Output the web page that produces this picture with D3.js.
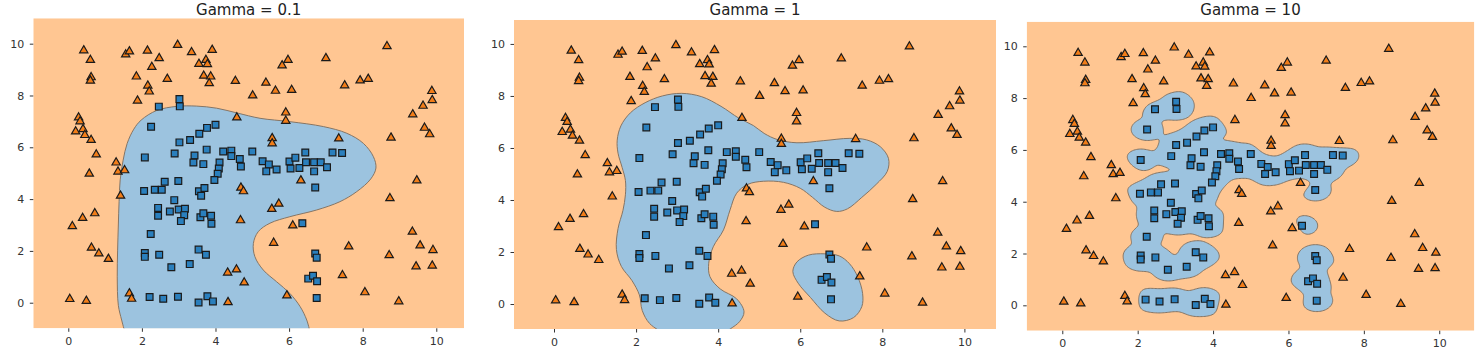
<!DOCTYPE html>
<html><head><meta charset="utf-8">
<script src="https://cdn.jsdelivr.net/npm/d3@7"></script>
<style>body{margin:0;background:#fff;} svg{display:block;font-family:"DejaVu Sans",sans-serif;}</style>
</head><body><svg id="c" width="1482" height="358"></svg>
<script>
const titles = ["Gamma = 0.1", "Gamma = 1", "Gamma = 10"];
const gammas = [0.1, 1, 10];
const xTicks = [0, 2, 4, 6, 8, 10];
const yTicks = [0, 2, 4, 6, 8, 10];

// class 0 (orange triangles)
const class0 = [
[0.42,9.74],[0.60,9.37],[0.62,8.70],[0.60,8.57],[1.56,9.58],[1.66,9.70],[2.15,9.73],[2.47,9.44],[2.27,9.10],[2.97,9.95],
[3.35,9.67],[3.91,9.76],[3.55,9.22],[3.74,9.37],[3.78,9.21],[1.85,8.73],[2.16,8.38],[2.20,8.15],[2.69,8.64],[3.68,8.76],
[3.87,8.73],[3.83,8.47],[4.54,8.56],[1.88,7.80],[0.28,7.15],[0.32,7.00],[0.20,6.61],[0.40,6.70],[0.45,6.47],[0.62,6.28],
[0.76,5.72],[0.57,4.98],[1.30,5.41],[1.35,5.06],[1.53,5.11],[1.42,4.13],[0.11,2.95],[0.39,3.27],[0.72,3.45],[0.63,2.12],
[0.83,1.90],[1.09,1.69],[0.04,0.14],[0.49,0.07],[1.66,0.36],[1.72,0.15],[4.34,0.02],[4.33,1.16],[4.57,1.28],[4.78,0.78],
[4.69,4.44],[4.76,4.30],[4.68,3.18],[4.58,7.15],[5.01,8.00],[5.37,8.49],[5.63,8.18],[5.81,9.16],[5.97,9.37],[6.07,8.21],
[5.91,7.34],[5.91,7.02],[5.54,6.35],[5.54,6.15],[7.00,9.44],[7.51,8.39],[7.93,8.58],[8.15,8.64],[8.66,9.90],[7.35,6.34],
[6.32,4.72],[5.53,3.62],[5.72,3.82],[6.10,2.98],[5.58,2.31],[5.94,0.28],[7.45,1.06],[7.62,2.17],[8.06,0.40],[8.72,1.83],
[8.74,4.03],[8.77,6.37],[8.98,0.05],[9.35,2.74],[9.56,2.21],[9.45,1.40],[9.91,2.03],[9.89,1.43],[9.47,4.72],[9.36,7.27],
[9.64,7.60],[9.88,8.17],[9.89,7.82],[9.68,6.75],[9.82,6.50]
];
// class 1 (blue squares)
const class1 = [
[3.02,7.86],[3.03,7.58],[2.46,7.57],[2.25,6.79],[3.02,6.19],[3.31,6.28],[3.56,6.52],[3.77,6.75],[4.00,6.87],[3.76,5.91],
[2.89,5.76],[2.08,5.61],[3.43,5.68],[3.40,5.41],[3.67,5.35],[4.21,5.84],[4.43,5.87],[4.43,5.66],[4.66,5.55],[4.69,5.26],
[4.11,5.41],[4.09,5.18],[4.06,4.98],[3.97,4.74],[5.00,5.84],[5.28,5.46],[5.45,5.34],[5.38,5.07],[5.66,5.14],[6.01,5.45],
[6.04,5.18],[6.17,5.60],[6.28,5.20],[6.44,5.80],[6.46,5.42],[6.68,5.42],[6.68,5.07],[6.86,5.42],[7.03,5.23],[7.18,5.80],
[7.44,5.78],[6.71,4.45],[2.99,4.70],[2.62,4.67],[2.06,4.31],[2.35,4.36],[2.54,4.36],[3.55,4.30],[3.61,4.13],[3.70,4.43],
[2.88,3.96],[2.44,3.66],[2.44,3.36],[2.76,3.52],[3.00,3.60],[3.17,3.63],[3.15,3.38],[3.06,3.15],[3.59,3.30],[3.67,3.45],
[3.88,3.36],[3.89,3.05],[2.24,2.65],[2.08,1.92],[2.08,1.77],[2.47,1.85],[2.80,1.37],[3.30,1.49],[3.54,2.05],[3.74,1.85],
[2.21,0.22],[2.58,0.15],[2.98,0.23],[3.54,0.01],[3.78,0.25],[3.93,0.05],[6.36,3.07],[6.71,1.90],[6.75,1.74],[6.52,0.93],
[6.65,1.04],[6.76,0.83],[6.75,0.18]
];

// decision boundaries (data units)
const boundaryGamma01 = [
[1.55,-1.2],[1.45,-0.67],[1.36,-0.1],[1.33,1.0],[1.34,2.0],[1.36,3.0],[1.38,3.9],[1.41,4.74],[1.49,5.5],[1.60,6.15],
[1.78,6.7],[1.98,7.05],[2.40,7.42],[2.95,7.58],[3.49,7.59],[4.03,7.51],[4.60,7.32],[5.21,7.12],[6.02,6.99],[6.93,6.80],
[7.57,6.54],[8.02,6.15],[8.29,5.64],[8.36,5.2],[8.22,4.78],[7.84,4.29],[7.38,3.90],[6.75,3.58],[6.02,3.32],[5.48,3.07],
[5.16,2.74],[5.03,2.29],[5.07,1.78],[5.30,1.26],[5.66,0.81],[6.02,0.36],[6.30,-0.15],[6.48,-0.67],[6.58,-1.2]
];
const boundaryGamma1Main = [
[2.7,-1.15],[2.33,-0.75],[2.15,-0.25],[2.08,0.35],[1.9,0.9],[1.64,1.45],[1.52,2.1],[1.56,2.9],[1.68,3.6],[1.74,4.2],
[1.74,4.75],[1.66,5.25],[1.56,5.8],[1.54,6.3],[1.63,6.85],[1.86,7.35],[2.22,7.74],[2.64,8.0],[3.11,8.10],[3.60,7.97],
[4.07,7.6],[4.5,7.15],[4.86,6.86],[5.12,6.56],[5.45,6.32],[5.92,6.20],[6.56,6.28],[7.21,6.37],[7.62,6.31],[7.95,6.05],
[8.15,5.6],[8.12,5.1],[7.85,4.6],[7.5,4.1],[7.15,3.66],[6.89,3.56],[6.6,3.72],[6.3,4.1],[6.0,4.45],[5.59,4.68],
[5.10,4.72],[4.72,4.6],[4.45,4.26],[4.29,3.62],[4.13,2.85],[3.88,2.2],[3.77,1.57],[3.80,1.05],[4.05,0.58],[4.45,0.2],
[4.63,-0.3],[4.52,-0.68],[4.3,-0.95],[4.1,-1.15]
];
const boundaryGamma1Island = [
[6.6,1.93],[6.95,1.85],[7.2,1.55],[7.4,1.05],[7.52,0.4],[7.5,-0.1],[7.3,-0.52],[6.95,-0.65],[6.6,-0.35],[6.25,0.25],
[5.95,0.8],[5.82,1.25],[5.92,1.62],[6.2,1.88]
];

const ORANGE_BG = "#ffc692", BLUE_BG = "#9cc3df", EDGE = "#857565";
const panels = [
  {left:33.3, right:464, top:18.3, bottom:328.3, xd:[-0.951,10.753], yd:[-0.988,10.98]},
  {left:514, right:996, top:20, bottom:329, xd:[-0.975,10.77], yd:[-0.96,10.92]},
  {left:1026.7, right:1474.3, top:21.7, bottom:330.7, xd:[-0.944,10.93], yd:[-0.98,10.95]}
];

const svg = d3.select("#c");

panels.forEach((p, k) => {
  const x = d3.scaleLinear().domain(p.xd).range([p.left, p.right]);
  const y = d3.scaleLinear().domain(p.yd).range([p.bottom, p.top]);
  const g = svg.append("g");
  const clipId = "clip" + k;
  g.append("clipPath").attr("id", clipId).append("rect")
    .attr("x", p.left).attr("y", p.top).attr("width", p.right - p.left).attr("height", p.bottom - p.top);
  const area = g.append("g").attr("clip-path", `url(#${clipId})`);
  area.append("rect").attr("x", p.left).attr("y", p.top)
    .attr("width", p.right - p.left).attr("height", p.bottom - p.top).attr("fill", ORANGE_BG);

  const lineOpen = d3.line().x(d => x(d[0])).y(d => y(d[1])).curve(d3.curveCatmullRom.alpha(0.5));
  const lineClosed = d3.line().x(d => x(d[0])).y(d => y(d[1])).curve(d3.curveCatmullRomClosed.alpha(0.5));

  if (k === 0) {
    area.append("path").attr("d", lineOpen(boundaryGamma01) + "Z")
      .attr("fill", BLUE_BG).attr("stroke", EDGE).attr("stroke-width", 1);
  } else if (k === 1) {
    area.append("path").attr("d", lineOpen(boundaryGamma1Main) + "Z")
      .attr("fill", BLUE_BG).attr("stroke", EDGE).attr("stroke-width", 1);
    area.append("path").attr("d", lineClosed(boundaryGamma1Island))
      .attr("fill", BLUE_BG).attr("stroke", EDGE).attr("stroke-width", 1);
  } else {
    const gamma = gammas[k];
    const n = 320, m = 320;
    const dx = (p.xd[1] - p.xd[0]) / n, dy = (p.yd[1] - p.yd[0]) / m;
    const vals = new Float64Array(n * m);
    const thr = 0.17;
    for (let j = 0; j < m; j++) {
      const yy = p.yd[0] + (j + 0.5) * dy;
      for (let i = 0; i < n; i++) {
        const xx = p.xd[0] + (i + 0.5) * dx;
        let s = 0;
        for (const b of class1) { const d2 = (xx-b[0])**2 + (yy-b[1])**2; if (d2 < 2) s += Math.exp(-gamma*d2); }
        for (const o of class0) { const d2 = (xx-o[0])**2 + (yy-o[1])**2; if (d2 < 2) s -= Math.exp(-gamma*d2); }
        vals[j*n + i] = s - thr;
      }
    }
    const cont = d3.contours().size([n, m]).thresholds([0])(vals);
    const proj = d3.geoTransform({point: function(gx, gy) {
      this.stream.point(x(p.xd[0] + gx*dx), y(p.yd[0] + gy*dy));
    }});
    area.append("path").attr("d", d3.geoPath(proj)(cont[0]))
      .attr("fill", BLUE_BG).attr("stroke", EDGE).attr("stroke-width", 1);
  }

  // markers: squares (class 1) first, triangles (class 0) on top
  const sq = d3.symbol().type(d3.symbolSquare).size(46);
  const tri = d3.symbol().type(d3.symbolTriangle).size(30);
  area.append("g").selectAll("path").data(class1).join("path")
    .attr("d", sq).attr("transform", d => `translate(${x(d[0])},${y(d[1])})`)
    .attr("fill", "#2a7fbd").attr("stroke", "#1a1a1a").attr("stroke-width", 1.2);
  area.append("g").selectAll("path").data(class0).join("path")
    .attr("d", tri).attr("transform", d => `translate(${x(d[0])},${y(d[1])})`)
    .attr("fill", "#f27d18").attr("stroke", "#1a1a1a").attr("stroke-width", 1.2);

  // axes
  const ax = g.append("g").attr("transform", `translate(0,${p.bottom})`)
    .call(d3.axisBottom(x).tickValues(xTicks).tickSize(3.5).tickPadding(5.5).tickFormat(d3.format("d")));
  const ay = g.append("g").attr("transform", `translate(${p.left},0)`)
    .call(d3.axisLeft(y).tickValues(yTicks).tickSize(3.5).tickPadding(5.5).tickFormat(d3.format("d")));
  [ax, ay].forEach(a => {
    a.select(".domain").remove();
    a.selectAll("line").attr("stroke", "#333");
    a.selectAll("text").attr("fill", "#333").style("font-size", "11px").style("font-family", "DejaVu Sans, sans-serif");
  });

  g.append("text").attr("x", (p.left + p.right) / 2).attr("y", 15)
    .attr("text-anchor", "middle").attr("fill", "#222").style("font-size", "15px").text(titles[k]);
});
</script></body></html>
